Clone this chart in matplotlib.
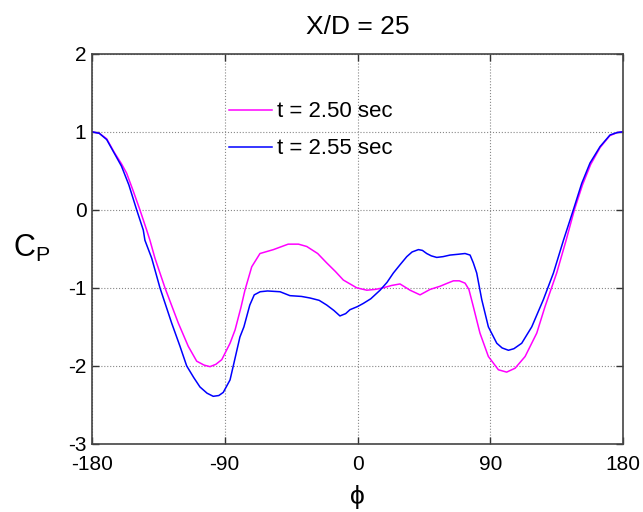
import numpy as np
import matplotlib
matplotlib.use("Agg")
import matplotlib.pyplot as plt

plt.rcParams['font.family'] = ['Liberation Sans', 'DejaVu Sans']
plt.rcParams['axes.unicode_minus'] = False

# --- Pressure coefficient around the cylinder, X/D = 25 ---
phi_a = [-180, -175, -170, -165, -160, -156.5, -152, -147.5, -142.9, -140.7,
         -137.3, -130.5, -121.5, -114.7, -109, -104, -100, -96, -92, -86.4,
         -83, -79, -76.3, -71.7, -66.1, -57, -47, -40, -34.4, -27, -20.9,
         -15, -9.6, -0.5, 6.3, 12, 17.4, 23, 28.8, 35.6, 42.4, 49.2, 55.9,
         61, 65, 69, 72.9, 75.5, 78.5, 83, 88.7, 95.5, 101.1, 106.8, 113.6,
         121.5, 127.1, 135, 141.4, 147, 152.5, 158, 164.5, 171, 176, 180]
cp_a = [1.00, 0.98, 0.91, 0.74, 0.59, 0.47, 0.24, 0.00, -0.26, -0.39,
        -0.62, -1.00, -1.45, -1.75, -1.94, -1.99, -2.01, -1.98, -1.92, -1.71,
        -1.54, -1.25, -1.03, -0.73, -0.56, -0.51, -0.44, -0.44, -0.47, -0.56, -0.68,
        -0.79, -0.90, -1.00, -1.03, -1.02, -1.00, -0.97, -0.95, -1.03, -1.09, -1.02, -0.98,
        -0.94, -0.91, -0.91, -0.94, -1.02, -1.24, -1.58, -1.88, -2.05, -2.08, -2.03, -1.88,
        -1.58, -1.24, -0.81, -0.39, 0.00, 0.32, 0.58, 0.80, 0.95, 0.99, 1.00]

phi_b = [-180, -175, -170, -165, -160, -155, -149.7, -145.2, -144.1, -139.5,
         -133.9, -126, -120.3, -115.8, -111, -106.8, -102, -97.8, -94, -91,
         -86.4, -84.2, -79.7, -77, -73, -70, -66, -61, -52.5, -45.8, -38,
         -32.2, -26, -20.9, -16, -11.9, -8, -5.1, 0, 3.9, 9, 15.3, 20, 24.3,
         29, 33.4, 37, 41.3, 44, 46.9, 50, 53.7, 58, 62.7, 68, 72.9, 76.3,
         78.5, 80.8, 84.2, 88.7, 94.4, 98, 102.3, 106, 111.3, 118.1, 126,
         132.8, 139.6, 146.3, 152, 157.6, 164.4, 171.2, 176, 180]
cp_b = [1.00, 0.98, 0.90, 0.73, 0.56, 0.32, 0.00, -0.26, -0.39, -0.62,
        -1.00, -1.45, -1.75, -2.00, -2.15, -2.27, -2.35, -2.39, -2.38, -2.34,
        -2.18, -2.00, -1.63, -1.50, -1.22, -1.09, -1.05, -1.04, -1.05, -1.10, -1.11,
        -1.13, -1.16, -1.22, -1.29, -1.36, -1.33, -1.28, -1.24, -1.20, -1.14, -1.03, -0.93, -0.81,
        -0.70, -0.60, -0.54, -0.51, -0.52, -0.56, -0.59, -0.61, -0.60, -0.58, -0.57, -0.56, -0.58,
        -0.68, -0.81, -1.15, -1.50, -1.71, -1.77, -1.80, -1.78, -1.71, -1.50, -1.15,
        -0.81, -0.39, 0.00, 0.34, 0.60, 0.81, 0.96, 0.99, 1.00]

labels = ['t = 2.50 sec', 't = 2.55 sec']
xticks = [-180, -90, 0, 90, 180]
yticks = [-3, -2, -1, 0, 1, 2]

fig = plt.figure(figsize=(6.43, 5.12), dpi=100)
ax = fig.add_axes([0.143, 0.133, 0.826, 0.762])

ax.plot(phi_a, cp_a, color='#ff00ff', lw=1.1, label=labels[0])
ax.plot(phi_b, cp_b, color='#0000ff', lw=1.1, label=labels[1])

ax.set_xlim(-180, 180)
ax.set_ylim(-3, 2)
ax.set_xticks(xticks)
ax.set_yticks(yticks)
ax.tick_params(direction='in', top=True, right=True, length=5, width=1,
               labelsize=15, colors='#333333', labelcolor='black')
ax.tick_params(axis='x', pad=8)
ax.tick_params(axis='y', pad=4)
for s in ax.spines.values():
    s.set_color('#444444')
    s.set_linewidth(1.2)
ax.grid(True, linestyle=':', color='#888888', linewidth=0.8)

ax.set_title('X/D = 25', fontsize=19, pad=14)
ax.set_xlabel('\u03d5', fontsize=19, labelpad=8)
ax.set_ylabel(r'$\mathregular{C_P}$', fontsize=22, rotation=0, labelpad=26, va='center')

ax.legend(loc='upper left', bbox_to_anchor=(0.258, 0.878), frameon=False,
          fontsize=16, handlelength=1.95, handletextpad=0.22,
          labelspacing=0.72, borderpad=0, borderaxespad=0)

fig.savefig('out.png', dpi=100)
